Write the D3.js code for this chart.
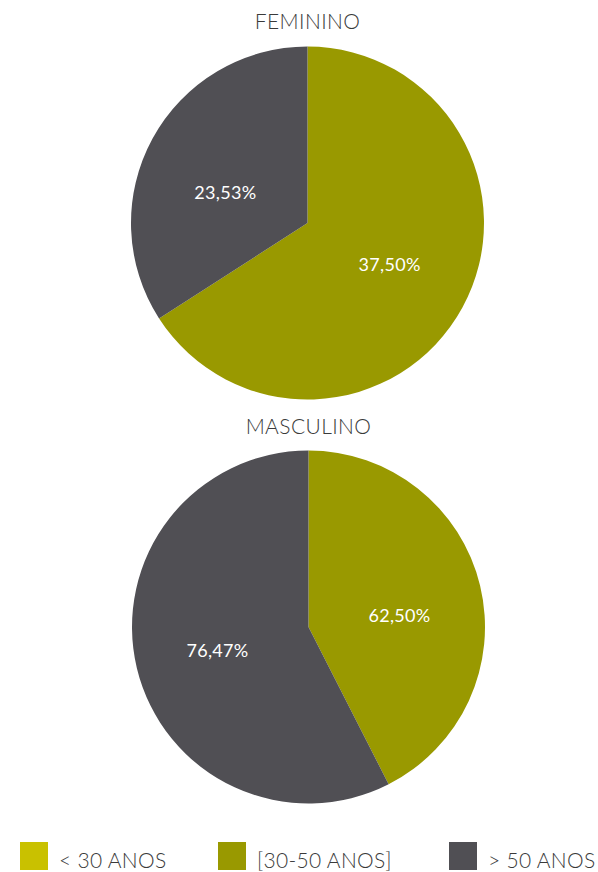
<!DOCTYPE html>
<html>
<head>
<meta charset="utf-8">
<script src="https://cdn.jsdelivr.net/npm/d3@7"></script>
<style>
  body { margin: 0; background: #fff; }
  svg text { font-family: Lato, "Open Sans", sans-serif; }
</style>
</head>
<body>
<div id="chart"></div>
<script>
const categories = ["< 30 ANOS", "[30-50 ANOS]", "> 50 ANOS"];
const colors = ["#c9c100", "#999900", "#504f54"];
const genders = ["FEMININO", "MASCULINO"];
// slice shares (angles), labels as printed
const feminino = [0, 65.9, 34.1];
const masculino = [0, 42.5, 57.5];
const femininoLabels = ["", "37,50%", "23,53%"];
const masculinoLabels = ["", "62,50%", "76,47%"];

const [width, height] = [598, 872];
const radius = 176.5;
const svg = d3.select("#chart").append("svg").attr("width", width).attr("height", height);

const pie = d3.pie().sort(null).value(d => d);
const arc = d3.arc().innerRadius(0).outerRadius(radius);
const labelArc = d3.arc().innerRadius(radius * 0.53).outerRadius(radius * 0.53);

const charts = [
	{ title: genders[0], values: feminino, labels: femininoLabels, cx: 307.5, cy: 223, ty: 29 },
	{ title: genders[1], values: masculino, labels: masculinoLabels, cx: 308.5, cy: 627, ty: 434 }
];

charts.forEach(c => {
	svg.append("text")
	.attr("x", c.cx).attr("y", c.ty)
	.attr("text-anchor", "middle")
	.attr("font-size", 21).attr("font-weight", 300)
	.attr("letter-spacing", 0.4)
	.attr("fill", "#3a3a3a")
	.text(c.title);

	const g = svg.append("g").attr("transform", `translate(${c.cx}, ${c.cy})`);
	const arcs = pie(c.values);
	g.selectAll("path").data(arcs).enter().append("path")
	.attr("d", arc)
	.attr("fill", (d, i) => colors[i]);

	// labels sit a little flatter and lower than the plain centroid
	g.selectAll("text").data(arcs.filter(d => d.value > 0)).enter().append("text")
	.attr("transform", d => {
		const [x, y] = labelArc.centroid(d);
		return `translate(${x}, ${y * 0.8 + 6})`;
	})
	.attr("text-anchor", "middle")
	.attr("dy", "0.35em")
	.attr("font-size", 18)
	.attr("letter-spacing", 0.3)
	.attr("fill", "#fff")
	.text(d => c.labels[d.index]);
});

const legendX = d3.scalePoint().domain(categories).range([20, 449]);
const legend = svg.append("g").attr("transform", "translate(0, 842)");
const items = legend.selectAll("g").data(categories).enter().append("g");
items.append("rect")
.attr("x", d => d === categories[1] ? 218 : legendX(d))
.attr("y", 0).attr("width", 28).attr("height", 28)
.attr("fill", (d, i) => colors[i]);
items.append("text")
.attr("x", d => (d === categories[1] ? 218 : legendX(d)) + 39)
.attr("y", 26)
.attr("font-size", 21).attr("font-weight", 300)
.attr("letter-spacing", 0.3)
.attr("fill", "#3a3a3a")
.text(d => d);
</script>
</body>
</html>
